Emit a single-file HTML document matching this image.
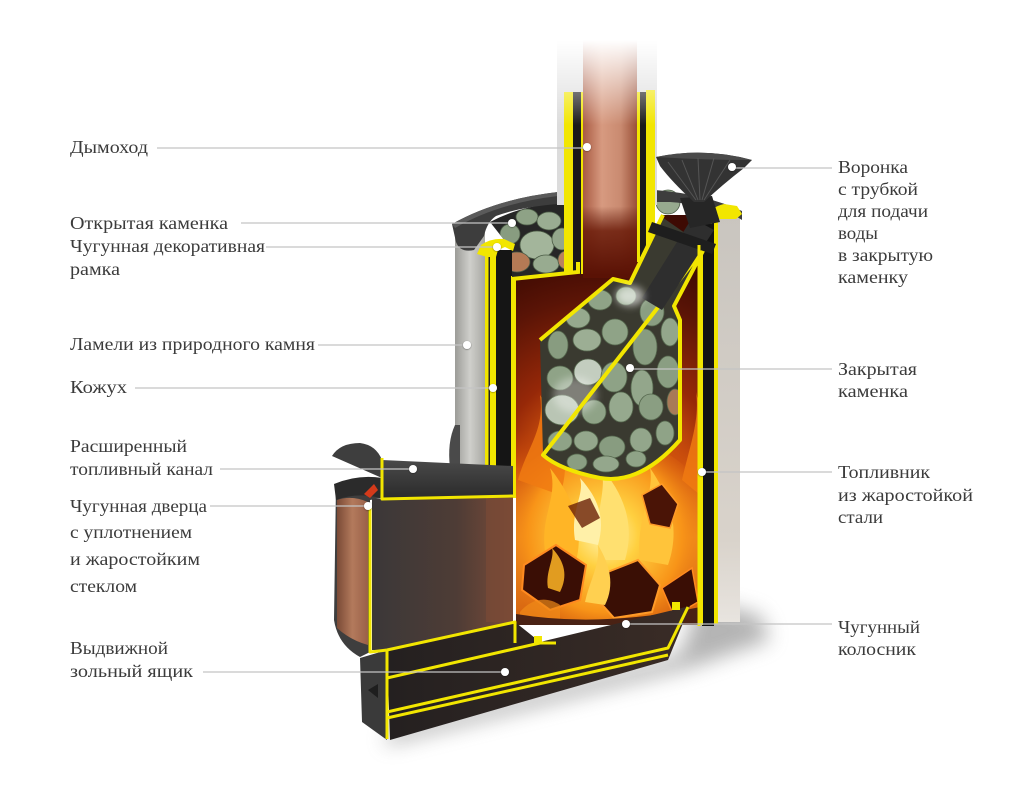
<!DOCTYPE html>
<html><head><meta charset="utf-8">
<style>
html,body{margin:0;padding:0;background:#fff;}
svg{display:block;}
text{font-family:"Liberation Serif","DejaVu Serif",serif;font-size:18px;fill:#3b3b3b;}
</style></head><body>
<svg width="1024" height="797" viewBox="0 0 1024 797" xmlns="http://www.w3.org/2000/svg">
<defs>
  <linearGradient id="fadeG" x1="0" y1="40" x2="0" y2="125" gradientUnits="userSpaceOnUse">
    <stop offset="0" stop-color="#000"/><stop offset="1" stop-color="#fff"/>
  </linearGradient>
  <mask id="chimMask"><rect x="540" y="0" width="140" height="300" fill="url(#fadeG)"/></mask>
  <linearGradient id="copper" x1="0" y1="0" x2="1" y2="0">
    <stop offset="0" stop-color="#a85a42"/><stop offset="0.35" stop-color="#d79a80"/>
    <stop offset="0.7" stop-color="#c98a70"/><stop offset="1" stop-color="#9a5038"/>
  </linearGradient>
  <linearGradient id="copperV" x1="0" y1="30" x2="0" y2="275" gradientUnits="userSpaceOnUse">
    <stop offset="0" stop-color="#5a1205" stop-opacity="0"/><stop offset="0.72" stop-color="#5a1205" stop-opacity="0"/>
    <stop offset="0.82" stop-color="#6a1a08" stop-opacity="0.85"/><stop offset="1" stop-color="#5a1205" stop-opacity="1"/>
  </linearGradient>
  <linearGradient id="stoneL" x1="0" y1="0" x2="1" y2="0">
    <stop offset="0" stop-color="#9c9c98"/><stop offset="0.5" stop-color="#cfcfcb"/><stop offset="1" stop-color="#a8a8a3"/>
  </linearGradient>
  <linearGradient id="stoneR" x1="0" y1="0" x2="0" y2="1">
    <stop offset="0" stop-color="#c9c5bf"/><stop offset="0.8" stop-color="#d9d3cb"/><stop offset="1" stop-color="#e8e4df"/>
  </linearGradient>
  <radialGradient id="firebox" cx="610" cy="480" r="230" gradientUnits="userSpaceOnUse">
    <stop offset="0" stop-color="#ffb030"/><stop offset="0.25" stop-color="#e06010"/>
    <stop offset="0.5" stop-color="#962808"/><stop offset="0.8" stop-color="#5a1406"/><stop offset="1" stop-color="#3e0a03"/>
  </radialGradient>
  <linearGradient id="fireBase" x1="0" y1="430" x2="0" y2="625" gradientUnits="userSpaceOnUse">
    <stop offset="0" stop-color="#b83a08" stop-opacity="0"/><stop offset="0.2" stop-color="#d2560e"/>
    <stop offset="0.55" stop-color="#f29020"/><stop offset="1" stop-color="#d4600e"/>
  </linearGradient>
  <radialGradient id="fireCore" cx="605" cy="535" r="110" gradientUnits="userSpaceOnUse">
    <stop offset="0" stop-color="#fff4b0"/><stop offset="0.3" stop-color="#ffd040"/>
    <stop offset="0.7" stop-color="#f89418"/><stop offset="1" stop-color="#e06a10" stop-opacity="0"/>
  </radialGradient>
  <linearGradient id="glass" x1="0" y1="0" x2="1" y2="0">
    <stop offset="0" stop-color="#7a4a36"/><stop offset="0.5" stop-color="#b37a5c"/><stop offset="1" stop-color="#9a6048"/>
  </linearGradient>
  <linearGradient id="channel" x1="0" y1="0" x2="1" y2="0">
    <stop offset="0" stop-color="#3b3838"/><stop offset="0.6" stop-color="#4e3c36"/><stop offset="1" stop-color="#7c4c38"/>
  </linearGradient>
  <linearGradient id="ceil" x1="0" y1="0" x2="0" y2="1">
    <stop offset="0" stop-color="#4a4a4a"/><stop offset="1" stop-color="#2a2a2a"/>
  </linearGradient>
  <linearGradient id="ash" x1="0" y1="0" x2="1" y2="0">
    <stop offset="0" stop-color="#242020"/><stop offset="1" stop-color="#3a2c26"/>
  </linearGradient>
  <filter id="blur10" x="-50%" y="-50%" width="200%" height="200%"><feGaussianBlur stdDeviation="10"/></filter>
  <filter id="blur4" x="-50%" y="-50%" width="200%" height="200%"><feGaussianBlur stdDeviation="4"/></filter>
  <filter id="dotSh" x="-50%" y="-50%" width="200%" height="200%"><feDropShadow dx="0" dy="0.5" stdDeviation="0.8" flood-color="#000" flood-opacity="0.5"/></filter>
  <clipPath id="closedClip"><path d="M540,340 L613,279 L630,283 L662,217 L705,247 L674,306 L680,320 L680,440 Q640,485 600,478 Q560,470 543,455 Z"/></clipPath>
  <clipPath id="fireClip"><path d="M516,278 L577,272 L577,262 L640,262 L662,215 L699,215 L699,625 L516,625 Z"/></clipPath>
  <clipPath id="openClip"><path d="M490,222 Q520,206 558,203 L575,203 L575,272 L512,278 L512,250 Z"/></clipPath>
</defs>

<!-- shadow -->
<path d="M385,745 L690,668 L770,640 L760,615 L700,600 L680,655 L390,730 Z" fill="#777" opacity="0.55" filter="url(#blur10)"/>

<!-- right stone -->
<rect x="714" y="214" width="26" height="408" fill="url(#stoneR)"/>
<rect x="714" y="214" width="4" height="410" fill="#f2e600"/>
<!-- left stone -->
<rect x="455" y="230" width="30" height="238" fill="url(#stoneL)"/>
<path d="M455,425 Q447,442 450,468 L460,468 L460,425 Z" fill="#4a4a4a"/>

<!-- firebox interior -->
<path d="M516,278 L577,272 L577,262 L640,262 L662,215 L702,215 L702,625 L516,625 Z" fill="url(#firebox)"/>

<!-- left shell -->
<rect x="485" y="250" width="11" height="219" fill="#f2e600"/>
<rect x="488.5" y="252" width="1.5" height="215" fill="#222"/>
<rect x="496" y="250" width="16" height="220" fill="#151515"/>
<rect x="511" y="276" width="5" height="222" fill="#f2e600"/>
<path d="M477,468 L498,466 L498,470 L477,471 Z" fill="#f2e600"/>

<!-- right shell -->
<rect x="702" y="214" width="12" height="412" fill="#141414"/>
<rect x="698" y="245" width="5" height="380" fill="#f2e600"/>

<!-- open kamenka -->
<path d="M490,222 Q520,206 558,203 L575,203 L575,272 L512,278 L512,250 Z" fill="#262626"/>
<g clip-path="url(#openClip)" stroke="#4c5c46" stroke-width="0.8">
  <ellipse cx="527" cy="217" rx="11" ry="8" fill="#8ea286"/>
  <ellipse cx="549" cy="221" rx="12" ry="9" fill="#9aad92"/>
  <ellipse cx="510" cy="234" rx="10" ry="10" fill="#889c80"/>
  <ellipse cx="537" cy="245" rx="17" ry="14" fill="#a3b59b"/>
  <ellipse cx="562" cy="239" rx="10" ry="11" fill="#94a78c"/>
  <ellipse cx="517" cy="262" rx="13" ry="10" fill="#b47a55"/>
  <ellipse cx="546" cy="264" rx="13" ry="9" fill="#98ab90"/>
  <ellipse cx="566" cy="260" rx="8" ry="9" fill="#b98260"/>
</g>
<ellipse cx="668" cy="202" rx="12" ry="12" fill="#97aa8f" stroke="#4c5c46" stroke-width="0.8"/>

<!-- rim -->
<path d="M452,224 Q496,199 558,192 L558,204 Q520,207 496,216 Q487,222 484,236 L474,250 Q460,253 456,242 Z" fill="#3d3d3d"/>
<path d="M452,224 Q496,199 558,192 L558,196 Q498,203 455,228 Z" fill="#5a5a5a"/>
<path d="M655,190 Q705,194 742,211 L742,220 L734,215 Q700,204 670,202 L655,202 Z" fill="#3d3d3d"/>
<!-- yellow caps -->
<path d="M477,254 L481,245 Q491,238 504,239 L515,244 L513,251 L505,247 L498,250 L496,257 L487,257 Z" fill="#f2e600"/>
<path d="M705,217 Q711,207 724,204 L737,206 L742,214 L736,219 L719,219 L711,224 Z" fill="#f2e600"/>

<!-- chimney -->
<g mask="url(#chimMask)">
  <rect x="557" y="30" width="100" height="175" fill="#dcdcdc"/>
  <rect x="564" y="92" width="9" height="182" fill="#f2e600"/>
  <rect x="573" y="92" width="8" height="182" fill="#1a1a1a"/>
  <rect x="581" y="92" width="2.5" height="182" fill="#f2e600"/>
  <rect x="583" y="30" width="54" height="248" fill="url(#copper)"/>
  <rect x="583" y="30" width="54" height="248" fill="url(#copperV)"/>
  <rect x="637" y="92" width="3" height="170" fill="#f2e600"/>
  <rect x="640" y="92" width="6" height="170" fill="#1a1a1a"/>
  <rect x="646" y="90" width="9" height="170" fill="#f2e600"/>
</g>
<!-- firebox top lines -->
<path d="M512,279 L578,272 L578,262" fill="none" stroke="#f2e600" stroke-width="4"/>
<path d="M640,262 L663,215" fill="none" stroke="#f2e600" stroke-width="4"/>

<!-- fire -->
<g clip-path="url(#fireClip)">
  <rect x="516" y="430" width="186" height="195" fill="url(#fireBase)"/>
  <ellipse cx="605" cy="535" rx="112" ry="98" fill="url(#fireCore)"/>
  <path d="M518,480 C528,445 545,430 540,395 C562,430 572,460 560,495 Z" fill="#f07a12" opacity="0.85"/>
  <path d="M682,480 C690,445 700,420 696,392 C706,430 706,462 700,495 Z" fill="#f07a12" opacity="0.85"/>
  <path d="M548,565 C535,520 560,500 550,468 C575,500 585,530 575,565 Z" fill="#ffb526"/>
  <path d="M600,560 C590,520 610,490 600,466 C625,495 635,525 625,560 Z" fill="#ffe070"/>
  <path d="M640,560 C635,520 655,495 650,468 C672,500 680,530 668,565 Z" fill="#ffc43a"/>
  <path d="M575,540 C570,510 585,495 580,478 C600,500 605,520 598,545 Z" fill="#fff0a8"/>
  <!-- logs -->
  <path d="M524,565 L556,545 L586,565 L580,600 L550,610 L522,590 Z" fill="#3a0e05" stroke="#ff8a20" stroke-width="2"/>
  <path d="M600,575 L638,560 L660,585 L652,612 L614,618 L598,600 Z" fill="#3a0f05" stroke="#ff9a28" stroke-width="2"/>
  <path d="M642,495 L662,484 L678,504 L670,528 L650,524 Z" fill="#4a1406" stroke="#ff9a28" stroke-width="1.5"/>
  <path d="M662,588 L692,568 L698,602 L674,616 Z" fill="#3a0e05" stroke="#ff8a20" stroke-width="1.5"/>
  <path d="M568,506 L590,498 L600,518 L582,528 Z" fill="#6a2008" opacity="0.8"/>
  <path d="M585,602 C590,580 600,565 598,545 C610,565 615,585 605,605 Z" fill="#ffd050"/>
  <path d="M548,588 C545,572 555,558 552,548 C565,562 568,576 560,592 Z" fill="#ffb526" opacity="0.85"/>
  <path d="M520,612 C530,600 545,595 560,605 L560,625 L520,625 Z" fill="#f08a18" opacity="0.7"/>
  <!-- grate -->
  <path d="M516,614 Q600,628 700,607 L700,626 L516,630 Z" fill="#4a2214"/>
</g>

<!-- closed kamenka -->
<path d="M540,340 L613,279 L630,283 L662,217 L705,247 L674,306 L680,320 L680,440 Q640,485 600,478 Q560,470 543,455 Z" fill="#3a3a30"/>
<g clip-path="url(#closedClip)" stroke="#56684e" stroke-width="0.8">
  <ellipse cx="600" cy="300" rx="12" ry="10" fill="#8fa387"/>
  <ellipse cx="626" cy="296" rx="10" ry="9" fill="#94a78c"/>
  <ellipse cx="652" cy="312" rx="12" ry="14" fill="#8a9e82"/>
  <ellipse cx="578" cy="318" rx="12" ry="10" fill="#96a98e"/>
  <ellipse cx="558" cy="345" rx="10" ry="14" fill="#889c80"/>
  <ellipse cx="587" cy="340" rx="14" ry="11" fill="#9cae94"/>
  <ellipse cx="615" cy="332" rx="13" ry="13" fill="#8fa387"/>
  <ellipse cx="645" cy="347" rx="12" ry="18" fill="#889c80"/>
  <ellipse cx="670" cy="332" rx="9" ry="14" fill="#93a68b"/>
  <ellipse cx="560" cy="378" rx="13" ry="12" fill="#8fa387"/>
  <ellipse cx="588" cy="372" rx="14" ry="13" fill="#c3cdbf"/>
  <ellipse cx="614" cy="377" rx="13" ry="15" fill="#8ea286"/>
  <ellipse cx="642" cy="388" rx="11" ry="18" fill="#93a68b"/>
  <ellipse cx="668" cy="372" rx="11" ry="16" fill="#8a9e82"/>
  <ellipse cx="562" cy="410" rx="17" ry="15" fill="#b9c5b4"/>
  <ellipse cx="594" cy="412" rx="12" ry="12" fill="#8fa387"/>
  <ellipse cx="621" cy="407" rx="12" ry="15" fill="#96a98e"/>
  <ellipse cx="651" cy="407" rx="12" ry="13" fill="#8a9e82"/>
  <ellipse cx="675" cy="402" rx="8" ry="13" fill="#a87a58"/>
  <ellipse cx="560" cy="441" rx="12" ry="10" fill="#8fa387"/>
  <ellipse cx="586" cy="441" rx="12" ry="10" fill="#94a78c"/>
  <ellipse cx="612" cy="447" rx="13" ry="11" fill="#889c80"/>
  <ellipse cx="641" cy="440" rx="11" ry="12" fill="#93a68b"/>
  <ellipse cx="665" cy="433" rx="9" ry="12" fill="#8fa387"/>
  <ellipse cx="577" cy="462" rx="10" ry="8" fill="#8a9e82"/>
  <ellipse cx="606" cy="464" rx="13" ry="8" fill="#94a78c"/>
  <ellipse cx="636" cy="459" rx="10" ry="8" fill="#8fa387"/>
</g>
<ellipse cx="575" cy="395" rx="22" ry="18" fill="#fff" opacity="0.35" filter="url(#blur4)"/>
<path d="M540,340 L613,279 L630,283 L662,217 M705,247 L674,306 L680,320 L680,440 Q640,485 600,478 Q560,470 543,455 Z" fill="none" stroke="#f2e600" stroke-width="4" stroke-linejoin="round"/>

<!-- funnel tube -->
<path d="M692,218 L714,230 L662,310 L642,298 Z" fill="#2e2e2e"/>
<path d="M652,222 L716,244 L712,254 L648,232 Z" fill="#1e1e1e"/>
<ellipse cx="630" cy="296" rx="14" ry="10" fill="#fff" opacity="0.6" filter="url(#blur4)"/>
<path d="M680,198 L712,196 L720,222 L690,228 Z" fill="#262626"/>
<path d="M656,157 Q704,147 752,160 L744,168 Q722,185 704,202 L694,202 Q672,182 660,166 Z" fill="#333"/>
<path d="M656,157 Q704,147 752,160 Q704,160 656,157 Z" fill="#4a4a4a"/>
<g stroke="#555" stroke-width="1" fill="none">
  <path d="M668,162 L696,200"/><path d="M682,160 L698,200"/><path d="M698,158 L700,200"/>
  <path d="M714,158 L702,200"/><path d="M730,160 L704,200"/>
</g>

<!-- fuel channel -->
<path d="M372,499 L513,496 L513,622 L387,650 L372,650 Z" fill="url(#channel)"/>
<rect x="486" y="497" width="27" height="125" fill="#7a4a36" opacity="0.7"/>
<path d="M382,460 L513,466 L513,496 L382,499 Z" fill="url(#ceil)"/>
<!-- door frame -->
<path d="M332,456 Q340,443 360,443 Q376,445 382,460 L382,478 Q360,476 336,484 L334,620 Q338,645 360,657 L370,652 L370,500 L382,498 L382,478 Z" fill="#3e3e3e"/>
<path d="M334,484 Q358,474 382,478 L380,498 Q358,492 336,500 Z" fill="#2b2b2b"/>
<path d="M364,494 L374,484 L378,490 L370,498 Z" fill="#d43a1a"/>
<path d="M337,500 Q352,495 368,502 L368,645 Q350,640 337,628 Z" fill="url(#glass)"/>
<!-- ash box -->
<path d="M387,650 L515,622 L540,642 L690,606 L668,660 L390,740 Z" fill="url(#ash)"/>
<path d="M360,658 L387,650 L387,740 L362,722 Z" fill="#3a3a3a"/>
<path d="M368,690 L378,684 L378,698 Z" fill="#1e1e1e"/>

<!-- yellow lines front -->
<g fill="none" stroke="#f2e600" stroke-width="3" stroke-linejoin="round">
  <path d="M382,458 L382,499 L513,496"/>
  <path d="M370,504 L370,652 L387,650"/>
  <path d="M387,650 L515,622 L515,643"/>
  <path d="M387,678 L540,643 L556,643"/>
  <path d="M387,712 L668,648 L688,607"/>
  <path d="M387,718 L668,655"/>
  <path d="M387,650 L387,739"/>
  <path d="M699,245 L699,626"/>
</g>
<path d="M534,636 l8,0 l0,8 l-8,0 Z M672,602 l8,0 l0,8 l-8,0 Z" fill="#f2e600"/>

<!-- leader lines -->
<g stroke="#c4c4c4" stroke-width="1.2">
  <line x1="157" y1="148" x2="587" y2="148"/>
  <line x1="241" y1="223" x2="512" y2="223"/>
  <line x1="266" y1="247" x2="497" y2="247"/>
  <line x1="318" y1="345" x2="467" y2="345"/>
  <line x1="135" y1="388" x2="493" y2="388"/>
  <line x1="220" y1="469" x2="413" y2="469"/>
  <line x1="210" y1="506" x2="368" y2="506"/>
  <line x1="203" y1="672" x2="505" y2="672"/>
  <line x1="732" y1="168" x2="832" y2="168"/>
  <line x1="630" y1="369" x2="832" y2="369"/>
  <line x1="702" y1="472" x2="832" y2="472"/>
  <line x1="626" y1="624" x2="832" y2="624"/>
</g>
<g fill="#fff" filter="url(#dotSh)">
  <circle cx="587" cy="147" r="4"/><circle cx="512" cy="223" r="4"/><circle cx="497" cy="247" r="4"/>
  <circle cx="467" cy="345" r="4"/><circle cx="493" cy="388" r="4"/><circle cx="413" cy="469" r="4"/>
  <circle cx="368" cy="506" r="4"/><circle cx="505" cy="672" r="4"/><circle cx="732" cy="167" r="4"/>
  <circle cx="630" cy="368" r="4"/><circle cx="702" cy="472" r="4"/><circle cx="626" cy="624" r="4"/>
</g>

<!-- labels left -->
<text x="70" y="153" textLength="78" lengthAdjust="spacingAndGlyphs">Дымоход</text>
<text x="70" y="229" textLength="158" lengthAdjust="spacingAndGlyphs">Открытая каменка</text>
<text x="70" y="252" textLength="195" lengthAdjust="spacingAndGlyphs">Чугунная декоративная</text>
<text x="70" y="275" textLength="50" lengthAdjust="spacingAndGlyphs">рамка</text>
<text x="70" y="350" textLength="245" lengthAdjust="spacingAndGlyphs">Ламели из природного камня</text>
<text x="70" y="393" textLength="57" lengthAdjust="spacingAndGlyphs">Кожух</text>
<text x="70" y="452" textLength="117" lengthAdjust="spacingAndGlyphs">Расширенный</text>
<text x="70" y="475" textLength="143" lengthAdjust="spacingAndGlyphs">топливный канал</text>
<text x="70" y="512" textLength="137" lengthAdjust="spacingAndGlyphs">Чугунная дверца</text>
<text x="70" y="538" textLength="122" lengthAdjust="spacingAndGlyphs">с уплотнением</text>
<text x="70" y="565" textLength="130" lengthAdjust="spacingAndGlyphs">и жаростойким</text>
<text x="70" y="592" textLength="67" lengthAdjust="spacingAndGlyphs">стеклом</text>
<text x="70" y="654" textLength="98" lengthAdjust="spacingAndGlyphs">Выдвижной</text>
<text x="70" y="677" textLength="123" lengthAdjust="spacingAndGlyphs">зольный ящик</text>
<!-- labels right -->
<text x="838" y="173" textLength="70" lengthAdjust="spacingAndGlyphs">Воронка</text>
<text x="838" y="195" textLength="80" lengthAdjust="spacingAndGlyphs">с трубкой</text>
<text x="838" y="217" textLength="90" lengthAdjust="spacingAndGlyphs">для подачи</text>
<text x="838" y="239" textLength="40" lengthAdjust="spacingAndGlyphs">воды</text>
<text x="838" y="261" textLength="95" lengthAdjust="spacingAndGlyphs">в закрытую</text>
<text x="838" y="283" textLength="70" lengthAdjust="spacingAndGlyphs">каменку</text>
<text x="838" y="375" textLength="79" lengthAdjust="spacingAndGlyphs">Закрытая</text>
<text x="838" y="397" textLength="70" lengthAdjust="spacingAndGlyphs">каменка</text>
<text x="838" y="478" textLength="92" lengthAdjust="spacingAndGlyphs">Топливник</text>
<text x="838" y="501" textLength="135" lengthAdjust="spacingAndGlyphs">из жаростойкой</text>
<text x="838" y="523" textLength="45" lengthAdjust="spacingAndGlyphs">стали</text>
<text x="838" y="633" textLength="82" lengthAdjust="spacingAndGlyphs">Чугунный</text>
<text x="838" y="655" textLength="78" lengthAdjust="spacingAndGlyphs">колосник</text>
</svg>
</body></html>
